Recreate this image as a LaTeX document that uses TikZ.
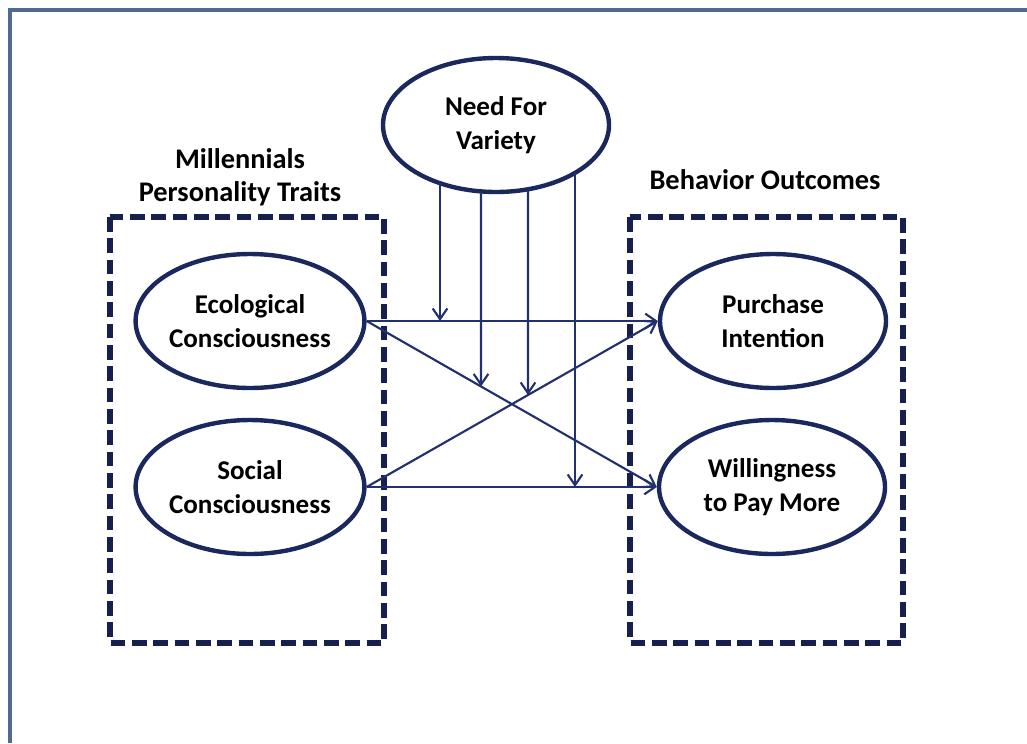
\documentclass[tikz,border=0pt]{standalone}
\usepackage{fontspec}
\setmainfont{Carlito}
\usetikzlibrary{shapes.geometric,arrows.meta,intersections}

\definecolor{ovalblue}{RGB}{27,40,94}
\definecolor{linkblue}{RGB}{34,48,110}
\definecolor{dashblue}{RGB}{22,32,78}
\definecolor{framegray}{RGB}{80,106,145}

\tikzset{every picture/.style={line width=0.75pt}}
\tikzset{
  oval/.style={draw=ovalblue, line width=3.3pt, ellipse, inner sep=0pt,
    minimum width=169.5pt, minimum height=100.5pt, align=center,
    font=\bfseries\fontsize{20.3}{25}\selectfont, text=black},
  heading/.style={align=center, font=\bfseries\fontsize{21.3}{25}\selectfont, text=black},
  link/.style={draw=linkblue, line width=1.6pt, -{Straight Barb[length=8pt,width=11pt]}},
  groupbox/.style={draw=dashblue, line width=3.8pt, dash pattern=on 11pt off 5pt},
}

\begin{document}
\begin{tikzpicture}[x=0.75pt,y=0.75pt,yscale=-1,xscale=1]
\useasboundingbox (0,0) rectangle (1027,743);

%Frame
\draw [framegray, line width=3.3pt] (1027,10) -- (10,10) -- (10,743) ;

%Shape: Rectangle (left group)
\draw [groupbox] (110,217) rectangle (384,643) ;
%Shape: Rectangle (right group)
\draw [groupbox] (630,217) rectangle (903,643) ;

% Text Node
\draw (240,177) node [heading] (traits) {Millennials\\Personality Traits};
% Text Node
\draw (765,180) node [heading] (outcomes) {Behavior Outcomes};

%Shape: Ellipse
\draw (496,125) node [oval, name path=nfvb] (nfv) {Need For\\Variety};
%Shape: Ellipse
\draw (250,321) node [oval] (eco) {Ecological\\Consciousness};
%Shape: Ellipse
\draw (250,487) node [oval] (soc) {Social\\Consciousness};
%Shape: Ellipse
\draw (773,321) node [oval] (pi) {Purchase\\Intention};
%Shape: Ellipse
\draw (772,487) node [oval] (wpm) {Willingness\\to Pay More};

%Straight Lines
\draw [link] (eco.east) -- (pi.west) ;
%Straight Lines
\draw [link, name path=ew] (eco.east) -- (wpm.west) ;
%Straight Lines
\draw [link, name path=sp] (soc.east) -- (pi.west) ;
%Straight Lines
\draw [link] (soc.east) -- (wpm.west) ;

% moderator lines
\path [name path=va] (440,100) -- (440,340) ;
\path [name path=vb] (481,100) -- (481,520) ;
\path [name path=vc] (528,100) -- (528,520) ;
\path [name path=vd] (575,100) -- (575,520) ;
\path [name intersections={of=nfvb and va, by={va1}}] ;
\path [name intersections={of=nfvb and vb, by={vb1}}] ;
\path [name intersections={of=ew and vb, by={vb2}}] ;
\path [name intersections={of=nfvb and vc, by={vc1}}] ;
\path [name intersections={of=sp and vc, by={vc2}}] ;
\path [name intersections={of=nfvb and vd, by={vd1}}] ;

%Straight Lines
\draw [link] (va1) -- (va1 |- eco.east) ;
%Straight Lines
\draw [link] (vb1) -- (vb2) ;
%Straight Lines
\draw [link] (vc1) -- (vc2) ;
%Straight Lines
\draw [link] (vd1) -- (vd1 |- soc.east) ;

\end{tikzpicture}
\end{document}
